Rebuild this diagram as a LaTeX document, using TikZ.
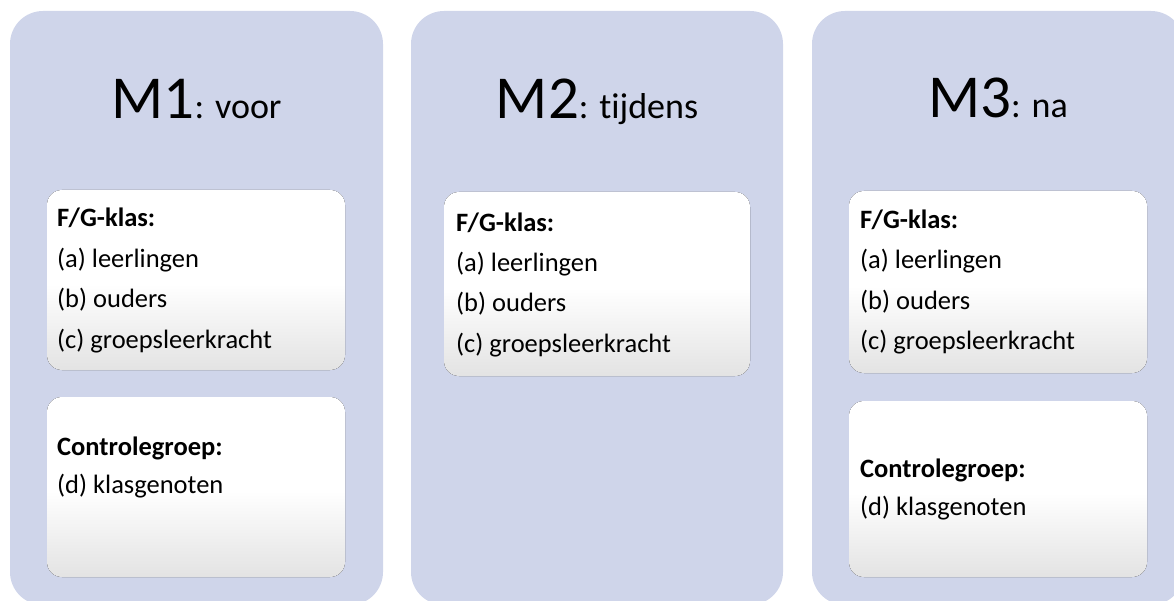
\documentclass[tikz,border=0pt]{standalone}
\usepackage{fontspec}
\setmainfont[Ligatures=NoCommon]{Carlito}
\definecolor{panelblue}{RGB}{207,213,234}
\definecolor{cardgray}{RGB}{227,227,227}
\pgfdeclareverticalshading{cardshade}{100bp}{%
  color(0bp)=(cardgray); color(25bp)=(cardgray); color(49bp)=(white); color(100bp)=(white)}
\tikzset{
  panel/.style={fill=panelblue, draw=none, rounded corners=33pt},
  card/.style={shading=cardshade, draw=none, rounded corners=15pt},
  bigtitle/.style={anchor=base, inner sep=0pt, font=\fontsize{61}{61}\selectfont},
  line/.style={anchor=base west, inner sep=0pt, font=\fontsize{26.5}{26.5}\selectfont},
  head/.style={line, font=\fontsize{26.5}{26.5}\selectfont\bfseries},
}
\newcommand{\subtitle}[1]{{\fontsize{36}{36}\selectfont #1}}
\begin{document}
\begin{tikzpicture}[x=1pt,y=-1pt]
\useasboundingbox (0,0) rectangle (1174,601);
\clip (0,0) rectangle (1174,601);

% three measurement panels
\fill[panel] (10,11) rectangle (383,605);
\fill[panel] (411,11) rectangle (783,605);
\fill[panel] (812,11) rectangle (1184,605);

% panel titles
\node[bigtitle] (t1) at (196.5,119) {M1\subtitle{: voor}};
\node[bigtitle] (t2) at (597,119) {M2\subtitle{: tijdens}};
\node[bigtitle] (t3) at (998,118) {M3\subtitle{: na}};

% white cards
\fill[card] (47,190) rectangle (345,370);
\fill[card] (47,397) rectangle (345,577);
\fill[card] (444,192) rectangle (750,376);
\fill[card] (849,191) rectangle (1147,373);
\fill[card] (849,401) rectangle (1147,577);

% M1 cards
\node[head] (a1h) at (57,227) {F/G-klas:};
\node[line] (a1a) at (57,268) {(a) leerlingen};
\node[line] (a1b) at (57,308) {(b) ouders};
\node[line] (a1c) at (57,348) {(c) groepsleerkracht};
\node[head] (b1h) at (57,455) {Controlegroep:};
\node[line] (b1d) at (57,493) {(d) klasgenoten};

% M2 card
\node[head] (a2h) at (456,232) {F/G-klas:};
\node[line] (a2a) at (456,272) {(a) leerlingen};
\node[line] (a2b) at (456,312) {(b) ouders};
\node[line] (a2c) at (456,352) {(c) groepsleerkracht};

% M3 cards
\node[head] (a3h) at (860,229) {F/G-klas:};
\node[line] (a3a) at (860,269) {(a) leerlingen};
\node[line] (a3b) at (860,309) {(b) ouders};
\node[line] (a3c) at (860,349) {(c) groepsleerkracht};
\node[head] (b3h) at (860,477) {Controlegroep:};
\node[line] (b3d) at (860,515) {(d) klasgenoten};
\end{tikzpicture}
\end{document}
